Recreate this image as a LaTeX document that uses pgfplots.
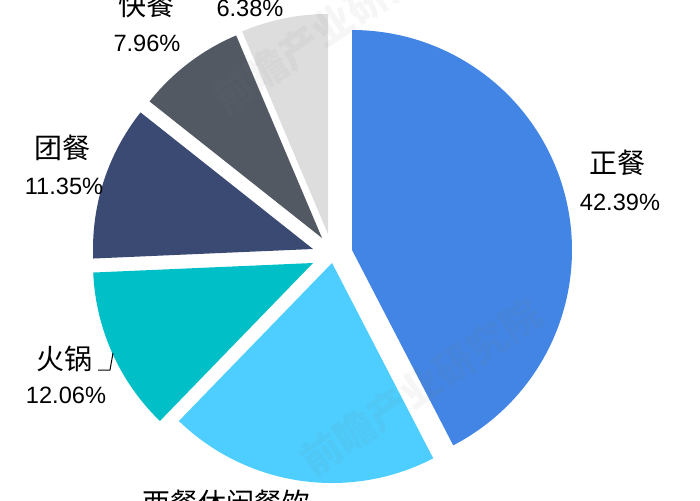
\documentclass[border=0pt]{standalone}
\usepackage{pgfplots}
\pgfplotsset{compat=1.18}
\usepackage{fontspec}
\setmainfont{Liberation Sans}
\newfontfamily\cjk{Noto Sans CJK SC}
\definecolor{cZheng}{RGB}{66,133,228}
\definecolor{cXi}{RGB}{77,206,255}
\definecolor{cHuo}{RGB}{0,191,198}
\definecolor{cTuan}{RGB}{58,74,115}
\definecolor{cKuai}{RGB}{82,89,99}
\definecolor{cOther}{RGB}{221,221,221}
% #1 cumulative share before slice, #2 share (%), #3,#4 slice tip, #5 colour
\newcommand\slice[5]{%
  \addplot[fill=#5, draw=none, domain=90-3.6*(#1+#2):90-3.6*#1, samples=120, variable=\u]
    ({#3+220*cos(\u)},{#4+220*sin(\u)}) -- (axis cs:#3,#4) -- cycle;}
\begin{document}
\begin{tikzpicture}
\begin{axis}[scale only axis, width=350pt, height=250pt,
  xmin=0, xmax=700, ymin=0, ymax=500, hide axis, clip=false]
\slice{0}{42.39}{352}{250}{cZheng}
\slice{42.39}{19.86}{332}{237}{cXi}
\slice{62.25}{12.06}{313}{237}{cHuo}
\slice{74.31}{11.35}{313}{251}{cTuan}
\slice{85.66}{7.96}{322}{262}{cKuai}
\slice{93.62}{6.38}{328}{266}{cOther}
% watermark
\node[rotate=34, text=gray, opacity=0.07, font=\cjk\fontsize{20}{20}\selectfont\bfseries] at (axis cs:421,113) {前瞻产业研究院};
\node[rotate=34, text=gray, opacity=0.07, font=\cjk\fontsize{20}{20}\selectfont\bfseries] at (axis cs:333,475) {前瞻产业研究院};
% labels
\tikzset{cjkl/.style={inner sep=0pt, font=\cjk\fontsize{14}{14}\selectfont},
         numl/.style={inner sep=0pt, font=\fontsize{11.8}{12}\selectfont}}
\node[cjkl] at (axis cs:617,337) {正餐};
\node[numl] at (axis cs:620,298) {42.39\%};
\node[cjkl] at (axis cs:62,352) {团餐};
\node[numl] at (axis cs:64,314) {11.35\%};
\node[cjkl] at (axis cs:146,495) {快餐};
\node[numl] at (axis cs:147,457) {7.96\%};
\node[numl] at (axis cs:250,492) {6.38\%};
\node[cjkl] at (axis cs:64,141) {火锅};
\node[numl] at (axis cs:66,105) {12.06\%};
\draw[black, line width=0.5pt] (axis cs:98,130) -- (axis cs:110,130) -- (axis cs:113,147);
\node[cjkl] at (axis cs:226,-3) {西餐休闲餐饮};
\end{axis}
\pgfresetboundingbox
\path[use as bounding box] (current axis.south west) rectangle (current axis.north east);
\end{tikzpicture}
\end{document}
